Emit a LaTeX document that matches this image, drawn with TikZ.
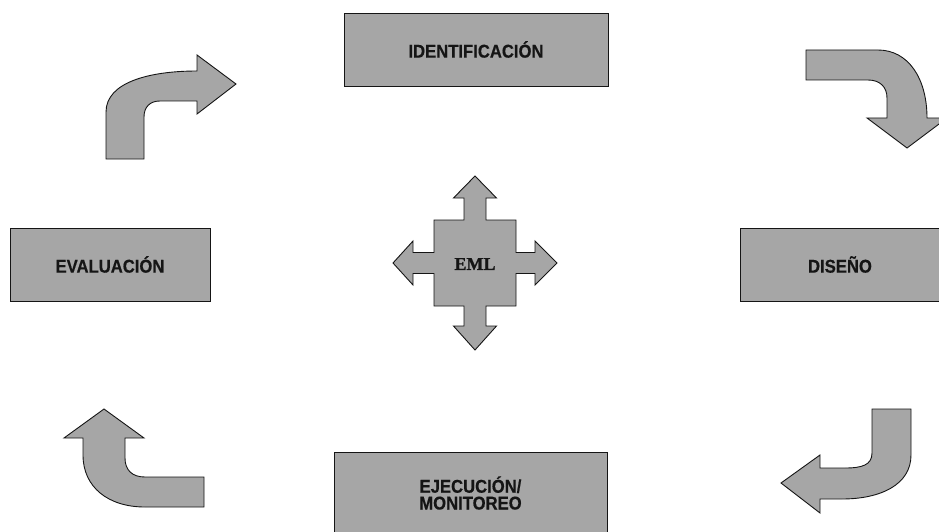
\documentclass[tikz,border=0pt]{standalone}
\usepackage{fontspec}
\setmainfont{Liberation Sans}[FakeStretch=0.9, BoldFeatures={FakeBold=0.5}]
\newfontfamily\emlfont{Liberation Serif}[BoldFeatures={FakeBold=1.2}]
\definecolor{shapegray}{HTML}{A6A6A6}
\definecolor{inkblack}{HTML}{151515}
\begin{document}
\begin{tikzpicture}[x=1pt,y=-1pt,
  shapefill/.style={fill=shapegray, draw=inkblack, line width=0.9pt, line join=miter},
  stagebox/.style={shapefill, rectangle, inner sep=0pt, align=center,
    font=\bfseries\fontsize{18.5}{16.8}\selectfont, text=inkblack}]
\useasboundingbox (0,0) rectangle (939,532);
\begin{scope}
\clip (0,0) rectangle (939,532);
% stage boxes
\node[stagebox, minimum width=264pt, minimum height=73pt] (ident) at (476,49.5) {IDENTIFICACIÓN};
\node[stagebox, minimum width=200pt, minimum height=73pt] (eval) at (110,264.5) {EVALUACIÓN};
\node[stagebox, minimum width=200pt, minimum height=73pt] (dise) at (840,264.5) {DISEÑO};
\node[stagebox, minimum width=273pt, minimum height=82pt] (ejec) at (470.5,493) {EJECUCIÓN/\\MONITOREO};

% top-left curved arrow (up then right)
\draw[shapefill] (106,159) -- (106,112)
  .. controls (106,82) and (150,71) .. (197,71)
  -- (197,55) -- (236,84) -- (197,114) -- (197,101) -- (160,101)
  .. controls (150,101) and (144,107) .. (144,117) -- (144,159) -- cycle;

% top-right curved arrow (right then down)
\draw[shapefill] (806,50) -- (878,50)
  .. controls (908,50) and (927,78) .. (927,118)
  -- (947,118) -- (907,148) -- (867,118) -- (887,118) -- (887,98)
  .. controls (887,87) and (880,80) .. (868,80) -- (806,80) -- cycle;

% bottom-right curved arrow (down then left)
\draw[shapefill] (872,409) -- (911,409) -- (911,455)
  .. controls (911,485) and (880,499) .. (842,499)
  -- (820,499) -- (820,513) -- (781,483) -- (820,455) -- (820,468) -- (845,468)
  .. controls (862,468) and (872,465) .. (872,453) -- cycle;

% bottom-left curved arrow (left then up)
\draw[shapefill] (104,409) -- (144,438) -- (125,438) -- (125,458)
  .. controls (125,470) and (132,477) .. (145,477)
  -- (204,477) -- (204,507) -- (145,507)
  .. controls (108,507) and (83,487) .. (83,455)
  -- (83,438) -- (64,438) -- cycle;

% central four-way arrow
\draw[shapefill] (475,176) -- (496.5,198) -- (486,198) -- (486,220) -- (516,220)
  -- (516,252.5) -- (535,252.5) -- (535,241) -- (557,263) -- (535,285) -- (535,273.5)
  -- (516,273.5) -- (516,306) -- (486,306) -- (486,326) -- (496.5,326) -- (475,350)
  -- (453.5,326) -- (464,326) -- (464,306) -- (434,306) -- (434,273.5) -- (413,273.5)
  -- (413,285) -- (393,263) -- (413,241) -- (413,252.5) -- (434,252.5) -- (434,220)
  -- (464,220) -- (464,198) -- (453.5,198) -- cycle;
\node[font=\emlfont\bfseries\fontsize{18}{18}\selectfont, text=inkblack] (eml) at (475,264) {EML};
\end{scope}
\end{tikzpicture}
\end{document}
